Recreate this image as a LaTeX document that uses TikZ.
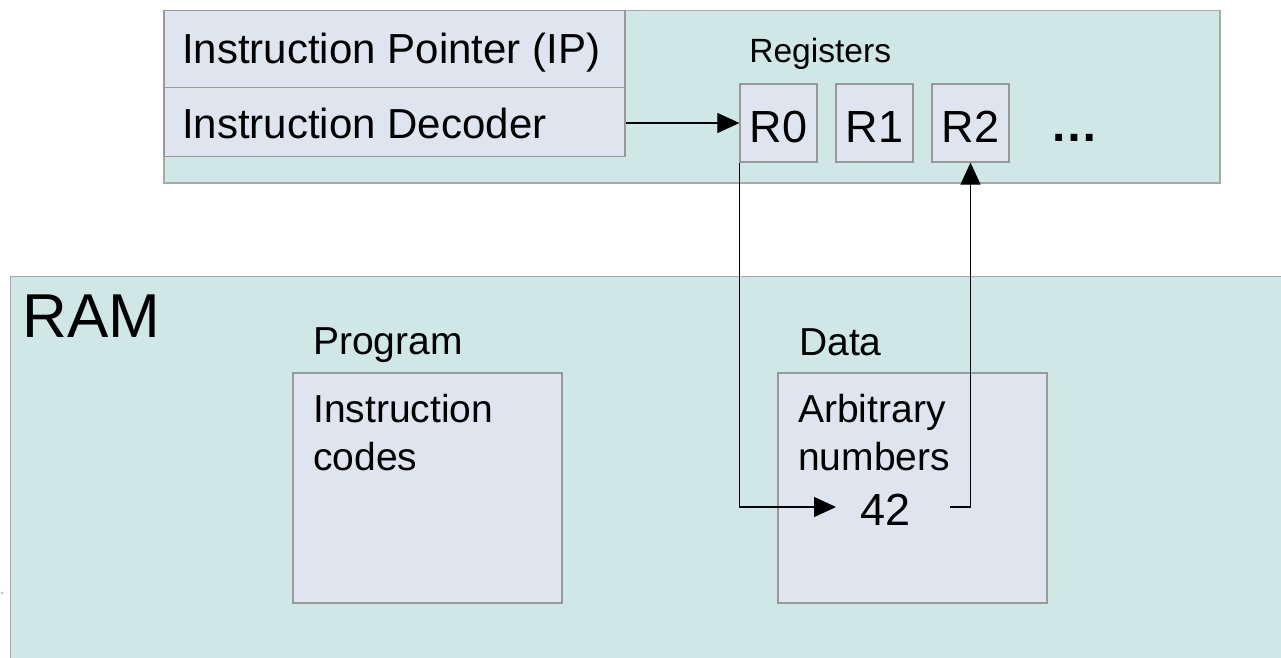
\documentclass[tikz,border=0pt]{standalone}
\usepackage{fontspec}
\setmainfont{Liberation Sans}
\usetikzlibrary{arrows.meta}
\definecolor{unitfill}{HTML}{CFE7E5}
\definecolor{cellfill}{HTML}{DEE5EF}
\definecolor{celledge}{HTML}{999999}
\definecolor{unitedge}{HTML}{A8A8A8}
\tikzset{
  unit/.style={rectangle, draw=unitedge, fill=unitfill, line width=1.1pt, inner sep=0pt},
  cell/.style={rectangle, draw=celledge, fill=cellfill, line width=0.9pt, inner sep=0pt},
  txt/.style={anchor=base west, inner sep=0pt, text=black},
  bigtext/.style={font=\fontsize{31.5}{36}\selectfont},
  midtext/.style={font=\fontsize{29.25}{34}\selectfont},
  regtext/.style={font=\fontsize{33.75}{40}\selectfont},
  regcell/.style={cell, regtext, minimum width=57.75pt, minimum height=58.5pt,
    text height=29.6pt, text depth=0pt},
  wire/.style={draw=black, line width=0.8pt},
  arr/.style={wire, -{Triangle[length=16.5pt,width=15pt]}},
}
\begin{document}
\begin{tikzpicture}[x=0.75pt,y=-0.75pt]
\useasboundingbox (0,0) rectangle (1281,657);

% processor unit
\node[unit, minimum width=792pt, minimum height=129.2pt] (cpu) at (692,96.85) {};
\node[cell, minimum width=345.75pt, minimum height=57.45pt] (ip) at (394.5,49) {};
\node[cell, minimum width=345.75pt, minimum height=52.05pt] (dec) at (394.5,122) {};
\node[txt, bigtext] (iptext) at (182,63) {Instruction Pointer (IP)};
\node[txt, bigtext] (dectext) at (182,138) {Instruction Decoder};

% registers
\node[txt, font=\fontsize{25.2}{29}\selectfont] (reglabel) at (749,62) {Registers};
\node[regcell] (r0) at (778.5,123) {R0};
\node[regcell] (r1) at (874.5,123) {R1};
\node[regcell] (r2) at (970.5,123) {R2};
\node[txt, regtext, font=\fontsize{36}{40}\bfseries] (more) at (1050,141) {…};

% memory
\node[unit, minimum width=967.1pt, minimum height=317.5pt] (ram) at (655.25,488.35) {};
\node[txt, font=\fontsize{46.5}{54}\selectfont] (ramtext) at (22,337) {RAM};

\node[txt, midtext] (proglabel) at (313,354) {Program};
\node[cell, minimum width=201.75pt, minimum height=172.5pt] (prog) at (427.5,488) {};
\node[txt, midtext] (prog1) at (313,422) {Instruction};
\node[txt, midtext] (prog2) at (313,470) {codes};

\node[txt, midtext] (datalabel) at (799,355) {Data};
\node[cell, minimum width=201.75pt, minimum height=172.5pt] (data) at (912.5,488) {};
\node[txt, midtext] (data1) at (798,422) {Arbitrary};
\node[txt, midtext] (data2) at (798,470) {numbers};
\node[txt, regtext] (val) at (860,525) {42};
\coordinate (valin) at (836,507);
\coordinate (valout) at (950,507);

% data paths
\draw[arr] (dec.east |- r0.west) -- (r0.west);
\draw[arr] (r0.south west) |- (valin);
\draw[arr] (valout) -| (r2.south);

\fill[gray!45] (2,593) circle (1.6);
\end{tikzpicture}
\end{document}
